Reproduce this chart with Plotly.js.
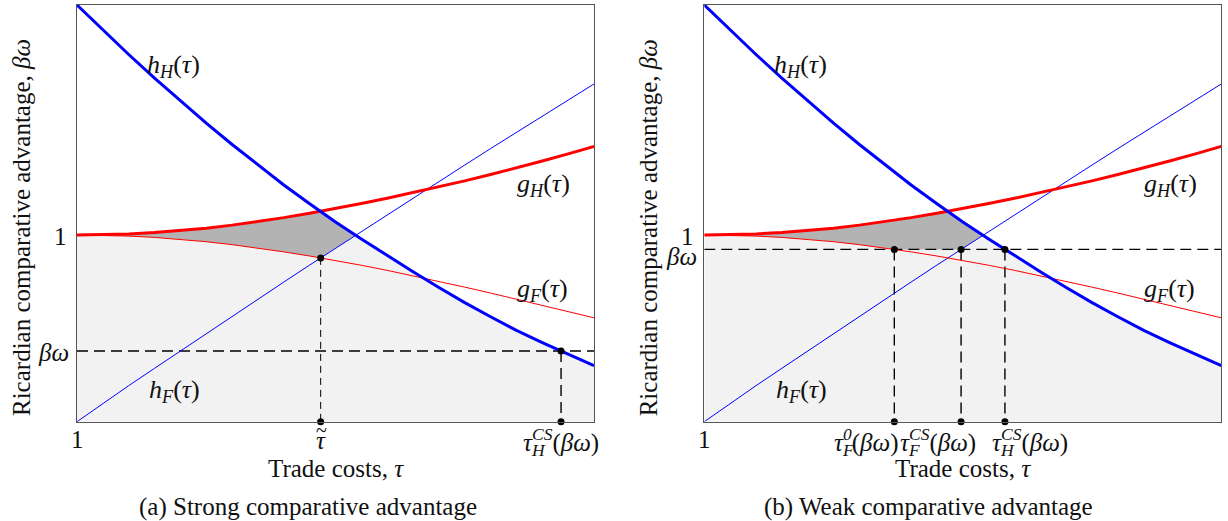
<!DOCTYPE html>
<html><head><meta charset="utf-8">
<script src="https://cdn.plot.ly/plotly-3.0.1.min.js"></script>
<style>html,body{margin:0;padding:0;background:#fff}#chart{width:1228px;height:521px}</style>
</head><body><div id="chart"></div>
<script>
// ---- data (same curves in both panels) ----
const tau = [1.00,1.05,1.10,1.15,1.20,1.25,1.30,1.35,1.40,1.45,1.50,1.55,1.60,1.65,1.70,1.75,1.80,1.85,1.90,1.95,2.00];
const hH = [2.232,2.097,1.967,1.840,1.718,1.599,1.485,1.374,1.268,1.167,1.070,0.979,0.890,0.803,0.719,0.638,0.562,0.489,0.424,0.362,0.300];
const hF = [0.000,0.098,0.193,0.286,0.379,0.472,0.565,0.656,0.748,0.839,0.929,1.019,1.109,1.198,1.287,1.375,1.463,1.550,1.637,1.723,1.809];
const gH = [1.000,1.0014,1.0058,1.0131,1.0234,1.0366,1.0529,1.0718,1.0931,1.1166,1.1418,1.1686,1.1967,1.2265,1.2576,1.2901,1.3241,1.3595,1.3964,1.4348,1.4746];
const gF = [1.000,0.9986,0.9943,0.9871,0.9770,0.9641,0.9484,0.9302,0.9097,0.8875,0.8637,0.8380,0.8106,0.7818,0.7518,0.7208,0.6890,0.6565,0.6235,0.5901,0.5564];
const betaOmega = [0.379, 0.923];          // panel (a), panel (b)
const yRange = [0, 2.232];
const captions = ['(a) Strong comparative advantage', '(b) Weak comparative advantage'];
const xTitle = 'Trade costs, <i>τ</i>';
const yTitle = 'Ricardian comparative advantage, <i>βω</i>';

// ---- helpers ----
const W = 1228, H = 521;
const lerp = (a,b,t) => a + (b-a)*t;
function breakpoints(fns){
  const pts = [];
  for(let i=0;i<tau.length-1;i++){
    const ts=[0];
    for(let a=0;a<fns.length;a++) for(let b=a+1;b<fns.length;b++){
      const d0=fns[a][i]-fns[b][i], d1=fns[a][i+1]-fns[b][i+1];
      if(d0*d1<0) ts.push(d0/(d0-d1));
    }
    ts.sort((p,q)=>p-q);
    ts.forEach(t=>pts.push({x:lerp(tau[i],tau[i+1],t), v:fns.map(f=>lerp(f[i],f[i+1],t))}));
  }
  const n=tau.length-1;
  pts.push({x:tau[n], v:fns.map(f=>f[n])});
  return pts;
}
function cross(f,g){
  for(let i=0;i<tau.length-1;i++){
    const d0=f[i]-g[i], d1=f[i+1]-g[i+1];
    if(d0*d1<0 || (d1===0)){ const t=d0/(d0-d1); return {x:lerp(tau[i],tau[i+1],t), y:lerp(f[i],f[i+1],t)}; }
  }
  return null;
}
const BLUE='#0000ff', RED='#ff0000';
const traces=[];
function panel(p){
  const xa = p===0 ? 'x' : 'x2', ya = p===0 ? 'y' : 'y2';
  const bw = tau.map(()=>betaOmega[p]);
  const pts = breakpoints([gH,hH,gF,hF,bw]);
  const up = pts.map(q=>Math.min(q.v[0],q.v[1]));
  const lo = pts.map(q=>Math.max(q.v[2],q.v[3],q.v[4]));
  traces.push({x:pts.map(q=>q.x), y:up, xaxis:xa, yaxis:ya, mode:'lines', line:{width:0,color:'rgba(0,0,0,0)'},
    fill:'tozeroy', fillcolor:'#f2f2f2', hoverinfo:'skip'});
  const sel=[]; pts.forEach((q,i)=>{ if(up[i]-lo[i]>=-1e-9) sel.push(i); });
  const dx = sel.map(i=>pts[i].x), dyU = sel.map(i=>up[i]), dyL = sel.map(i=>lo[i]);
  traces.push({x:dx.concat(dx.slice().reverse()), y:dyU.concat(dyL.slice().reverse()), xaxis:xa, yaxis:ya,
    mode:'lines', line:{width:0,color:'rgba(0,0,0,0)'}, fill:'toself', fillcolor:'#b3b3b3', hoverinfo:'skip'});
  traces.push({x:[tau[0],tau[tau.length-1]], y:[betaOmega[p],betaOmega[p]], xaxis:xa, yaxis:ya, mode:'lines',
    line:{color:'#000',width:1.4,dash:'11px,6px'}});
  const marks=[];
  if(p===0){
    const tt = cross(gF,hF);
    traces.push({x:[tt.x,tt.x], y:[tt.y,yRange[0]], xaxis:xa, yaxis:ya, mode:'lines', line:{color:'#000',width:1,dash:'7px,5px'}});
    const th = cross(hH,bw);
    traces.push({x:[th.x,th.x], y:[th.y,yRange[0]], xaxis:xa, yaxis:ya, mode:'lines', line:{color:'#000',width:1.4,dash:'11px,6px'}});
    marks.push(tt, th);
  } else {
    [cross(gF,bw), cross(hF,bw), cross(hH,bw)].forEach(c=>{
      traces.push({x:[c.x,c.x], y:[c.y,yRange[0]], xaxis:xa, yaxis:ya, mode:'lines', line:{color:'#000',width:1.4,dash:'11px,6px'}});
      marks.push(c);
    });
  }
  traces.push({x:tau, y:hF, xaxis:xa, yaxis:ya, mode:'lines', line:{color:BLUE,width:1}});
  traces.push({x:tau, y:gF, xaxis:xa, yaxis:ya, mode:'lines', line:{color:RED,width:1}});
  traces.push({x:tau, y:gH, xaxis:xa, yaxis:ya, mode:'lines', line:{color:RED,width:3}});
  traces.push({x:tau, y:hH, xaxis:xa, yaxis:ya, mode:'lines', line:{color:BLUE,width:3}});
  const mx=[], my=[];
  marks.forEach(m=>{ mx.push(m.x, m.x); my.push(m.y, yRange[0]); });
  traces.push({x:mx, y:my, xaxis:xa, yaxis:ya, mode:'markers', marker:{color:'#000',size:7}, cliponaxis:false});
  return marks;
}
const marksA = panel(0), marksB = panel(1);

// ---- text ----
const fnt = s => ({family:'Liberation Serif', size:s, color:'#111'});
const F_TITLE = fnt(25), F_TICK = fnt(25), F_LAB = fnt(26), F_CAP = fnt(25);
const T = 'color:rgba(0,0,0,0)';
function ann(text, px, py, o={}){
  return Object.assign({text, x:px/W, y:1-py/H, xref:'paper', yref:'paper', showarrow:false,
    xanchor:'center', yanchor:'middle', font:F_TICK}, o);
}
function stacked(base, sub, sup, rest, px, py, o){
  const A = `<i>${base}</i><sup><i>${sup}</i></sup>${rest}<sub><span style="${T}"><i>${sub}</i></span></sub>`;
  const B = `<span style="${T}"><i>${base}</i></span><sub><i>${sub}</i></sub><sup><span style="${T}"><i>${sup}</i></span></sup><span style="${T}">${rest}</span>`;
  return [ann(A,px,py,o), ann(B,px,py,o)];
}
const bwTxt = '(<i>βω</i>)';
const lab = (n,s) => `<i>${n}</i><sub><i>${s}</i></sub>(<i>τ</i>)`;
const annotations = [];
const OFF = 627.3;
[0,1].forEach(p=>{
  const o = p*OFF;
  annotations.push(ann(yTitle, 22+o, 228, {textangle:-90, font:F_TITLE}));
  annotations.push(ann(xTitle, 335.5+o, 468, {font:F_TITLE}));
  annotations.push(ann('1', 69+o, 237, {xanchor:'right'}));
  annotations.push(ann('1', 77+o, 439));
  annotations.push(ann(lab('h','H'), 173+o, 66, {font:F_LAB}));
  annotations.push(ann(lab('g','H'), 543+o, 185, {font:F_LAB}));
  annotations.push(ann(lab('g','F'), 542+o, 290, {font:F_LAB}));
  annotations.push(ann(lab('h','F'), 174+o, 391, {font:F_LAB}));
});
annotations.push(ann(captions[0], 307.5, 507, {font:F_CAP}));
annotations.push(ann(captions[1], 928, 507, {font:F_CAP}));
annotations.push(ann('<i>βω</i>', 71, 352, {xanchor:'right'}));
annotations.push(ann('<i>βω</i>', 699, 257, {xanchor:'right'}));
const tTx = 77 + (marksA[0].x-1)*517;
annotations.push(ann('<i>τ</i>', tTx, 440));
annotations.push(ann('~', tTx+1, 430, {font:fnt(20)}));
annotations.push(...stacked('τ','H','CS',bwTxt, 521, 442, {xanchor:'left'}));
annotations.push(...stacked('τ','F','0',bwTxt, 832, 442, {xanchor:'left'}));
annotations.push(...stacked('τ','F','CS',bwTxt, 898, 442, {xanchor:'left'}));
annotations.push(...stacked('τ','H','CS',bwTxt, 990, 442, {xanchor:'left'}));

const ax = (dom, anchor, range) => ({domain:dom, anchor, range, showgrid:false, zeroline:false, showticklabels:false,
  ticks:'', showline:true, mirror:true, linecolor:'#555', linewidth:1, fixedrange:true});
const yd = [(H-421.7)/H, (H-5)/H];
const layout = {
  width:W, height:H, margin:{l:0,r:0,t:0,b:0}, showlegend:false, paper_bgcolor:'#fff', plot_bgcolor:'#fff',
  xaxis: ax([77/W, 594/W], 'y', [1,2]),
  yaxis: ax(yd, 'x', yRange),
  xaxis2: ax([704.3/W, 1221.3/W], 'y2', [1,2]),
  yaxis2: ax(yd, 'x2', yRange),
  annotations
};
Plotly.newPlot('chart', traces, layout, {staticPlot:true, displayModeBar:false});
</script></body></html>
